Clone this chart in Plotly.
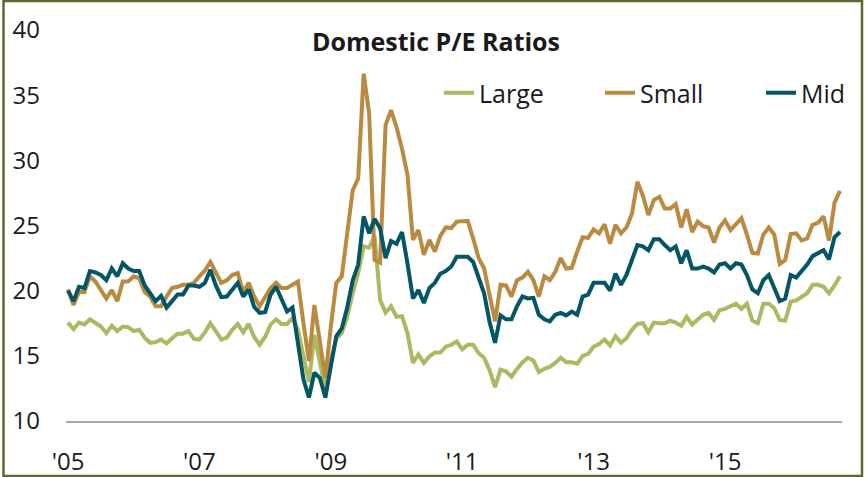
import plotly.graph_objects as go

months = list(range(142))  # monthly, Jan 2005 .. Oct 2016
tick_vals = [0, 24, 48, 72, 96, 120]
tick_text = ["'05", "'07", "'09", "'11", "'13", "'15"]

large = [17.55, 17.05, 17.55, 17.4, 17.8, 17.5, 17.25, 16.75, 17.3, 16.9,
         17.25, 17.2, 16.9, 17.0, 16.4, 16.0, 16.05, 16.25, 15.95, 16.35,
         16.7, 16.7, 16.9, 16.3, 16.25, 16.8, 17.5, 16.9, 16.25, 16.4,
         17.0, 17.45, 16.8, 17.45, 16.45, 15.85, 16.45, 17.4, 17.8, 17.45,
         17.45, 17.9, 17.0, 15.0, 13.0, 16.6, 14.5, 12.4, 14.7, 16.3,
         16.75, 18.0, 19.8, 21.35, 23.4, 23.3, 24.2, 19.3, 18.3, 18.8,
         18.0, 18.05, 16.75, 14.45, 15.1, 14.45, 14.95, 15.25, 15.25, 15.7,
         15.85, 16.1, 15.5, 15.85, 15.85, 15.2, 14.85, 13.9, 12.6, 13.95,
         13.8, 13.4, 14.0, 14.5, 14.85, 14.65, 13.75, 14.0, 14.15, 14.45,
         14.85, 14.5, 14.5, 14.4, 15.0, 15.15, 15.7, 15.9, 16.25, 15.8,
         16.5, 16.0, 16.35, 17.0, 17.45, 17.5, 16.8, 17.55, 17.5, 17.5,
         17.7, 17.55, 17.3, 18.0, 17.4, 17.75, 18.15, 18.3, 17.75, 18.5,
         18.6, 18.8, 19.0, 18.6, 19.0, 17.7, 17.5, 19.0, 19.0, 18.65,
         17.75, 17.7, 19.15, 19.25, 19.55, 19.8, 20.45, 20.45, 20.3, 19.8,
         20.4, 21.1]

small = [20.1, 18.9, 19.9, 19.9, 21.1, 20.7, 20.05, 19.4, 20.05, 19.2,
         20.7, 20.7, 21.1, 20.95, 19.9, 19.55, 18.8, 18.8, 19.55, 20.2,
         20.3, 20.45, 20.45, 20.6, 21.1, 21.55, 22.2, 21.45, 20.6, 20.8,
         21.2, 21.35, 19.9, 20.6, 19.55, 18.8, 19.55, 20.2, 20.6, 20.2,
         20.2, 20.45, 20.7, 17.5, 14.6, 18.9, 15.85, 13.3, 17.25, 20.6,
         21.1, 24.4, 27.7, 28.6, 36.65, 33.6, 22.35, 22.15, 32.7, 33.85,
         32.55, 30.9, 28.9, 23.9, 24.65, 22.75, 23.9, 23.0, 24.2, 24.85,
         24.8, 25.3, 25.3, 25.35, 24.0, 22.5, 21.7, 19.5, 17.65, 20.45,
         20.4, 19.55, 20.8, 21.0, 21.45, 20.8, 19.55, 21.1, 20.8, 21.45,
         22.5, 21.7, 21.75, 23.0, 24.1, 24.05, 24.7, 24.4, 25.1, 23.6,
         25.05, 24.4, 24.85, 25.9, 28.35, 27.3, 25.8, 26.95, 27.2, 26.3,
         26.3, 26.65, 24.85, 26.25, 24.5, 25.3, 24.95, 24.85, 23.7, 24.85,
         25.4, 24.65, 25.05, 25.55, 24.3, 22.9, 22.85, 24.3, 24.85, 24.3,
         22.05, 22.35, 24.35, 24.4, 23.85, 24.0, 25.05, 25.2, 25.7, 23.85,
         26.75, 27.65]

mid = [20.0, 19.2, 20.3, 20.2, 21.5, 21.4, 21.2, 20.8, 21.7, 21.1,
       22.1, 21.7, 21.5, 21.5, 20.4, 19.8, 19.2, 19.6, 18.7, 19.2,
       19.7, 19.7, 20.4, 20.4, 20.3, 20.6, 21.6, 20.4, 19.5, 19.55,
       20.1, 20.6, 19.55, 20.1, 18.75, 18.3, 18.35, 19.7, 20.3, 19.4,
       18.4, 18.7, 15.8, 13.2, 11.8, 13.7, 13.3, 11.8, 14.2, 16.5,
       17.1, 18.7, 20.8, 22.0, 25.7, 24.4, 25.5, 24.8, 22.5, 23.8,
       23.6, 24.5, 22.1, 19.4, 20.05, 19.05, 20.2, 20.6, 21.3, 21.5,
       21.85, 22.6, 22.6, 22.6, 22.2, 20.95, 19.8, 17.6, 16.0, 18.1,
       17.8, 17.8, 18.8, 19.55, 19.4, 19.45, 18.15, 17.8, 17.65, 18.15,
       18.3, 18.1, 18.4, 18.15, 19.55, 19.7, 20.6, 20.6, 20.6, 20.0,
       21.3, 20.45, 21.2, 22.35, 23.5, 23.4, 23.1, 23.95, 23.95, 23.5,
       23.1, 23.4, 22.1, 23.1, 21.7, 21.7, 21.85, 21.7, 21.4, 22.0,
       22.1, 21.7, 22.1, 22.0, 21.2, 20.1, 19.8, 20.8, 21.2, 20.2,
       19.2, 19.4, 21.2, 21.0, 21.45, 22.0, 22.65, 22.9, 23.1, 22.4,
       24.1, 24.5]

series_names = ["Large", "Small", "Mid"]
series_colors = ["#ABB963", "#B98A40", "#045566"]

W, H = 865, 477
ML, MR, MT, MB = 66, 23, 30, 56
PW, PH = W - ML - MR, H - MT - MB

fig = go.Figure()
for name, vals, col in zip(series_names, [large, small, mid], series_colors):
    fig.add_trace(go.Scatter(x=months, y=vals, mode="lines", name=name,
                             line=dict(color=col, width=4)))

font_family = "Open Sans, Noto Sans, DejaVu Sans, sans-serif"

fig.update_layout(
    width=W, height=H,
    margin=dict(l=ML, r=MR, t=MT, b=MB, pad=0, autoexpand=False),
    paper_bgcolor="white", plot_bgcolor="white",
    font=dict(family=font_family, size=24, color="#1a1a1a"),
    title=dict(text="<b>Domestic P/E Ratios</b>", x=436 / W, xanchor="center",
               y=1 - 42 / H, yanchor="middle", automargin=False,
               font=dict(size=25, color="#1a1a1a", family=font_family)),
    showlegend=True,
    legend=dict(orientation="h", x=(439 - ML) / PW, xanchor="left",
                y=(H - MB - 93) / PH, yanchor="middle",
                entrywidthmode="pixels", entrywidth=116,
                font=dict(size=25, color="#1a1a1a"),
                bgcolor="rgba(0,0,0,0)"),
    xaxis=dict(range=[-0.37, 141.37], tickvals=tick_vals, ticktext=tick_text,
               showgrid=False, zeroline=False, showline=True, automargin=False,
               linecolor="#AAAAAA", linewidth=1.5, ticks="",
               ticklabelstandoff=18, tickfont=dict(size=24)),
    yaxis=dict(range=[10, 40], tickvals=[10, 15, 20, 25, 30, 35, 40],
               showgrid=False, zeroline=False, showline=False, ticks="",
               automargin=False,
               ticklabelstandoff=25, tickfont=dict(size=24)),
    shapes=[dict(type="rect", xref="paper", yref="paper",
                 x0=(3.5 - ML) / PW, x1=(862 - ML) / PW,
                 y0=(H - MB - 476) / PH, y1=(H - MB - 1) / PH,
                 line=dict(color="#5E6830", width=2.5), fillcolor="rgba(0,0,0,0)")],
)

fig.write_html("out.html", config={"displayModeBar": False},
               post_script="document.body.style.margin='0';document.body.style.padding='0';")
